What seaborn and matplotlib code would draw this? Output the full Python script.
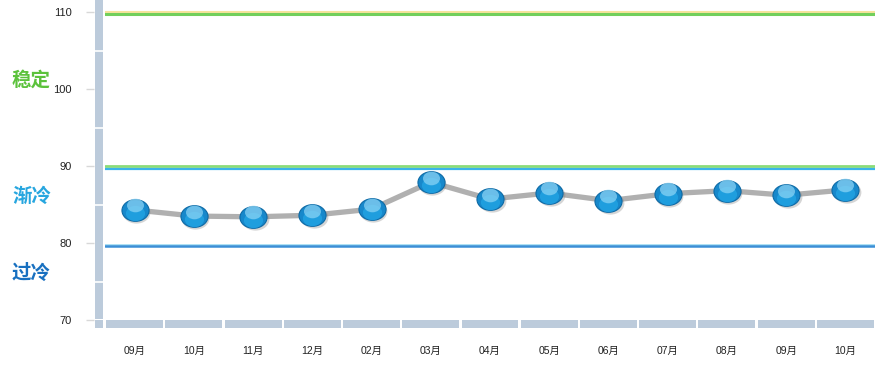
import numpy as np
import pandas as pd
import matplotlib.pyplot as plt
import matplotlib.transforms as mtrans
from matplotlib.path import Path
from matplotlib.patches import Rectangle
import seaborn as sns

# данные графика
months = ['09月', '10月', '11月', '12月', '02月', '03月', '04月',
          '05月', '06月', '07月', '08月', '09月', '10月']
values = [84.3, 83.5, 83.4, 83.6, 84.4, 87.9, 85.7,
          86.5, 85.5, 86.4, 86.8, 86.2, 86.9]
y_ticks = [70, 80, 90, 100, 110]
zone_names = ['稳定', '渐冷', '过冷']
zone_colors = ['#5cc23c', '#27a6df', '#1870c0']
zone_label_y = [80, 197, 273]  # пиксели сверху

sns.set_style('white')
plt.rcParams['font.family'] = ['Liberation Sans', 'Noto Sans CJK SC', 'DejaVu Sans']

df = pd.DataFrame({'pos': np.arange(len(months)), 'value': values})

fig = plt.figure(figsize=(8.85, 3.79), dpi=100)
ax = fig.add_axes([105 / 885, 59 / 379, 770 / 885, 320 / 379])
ax.set_xlim(-0.5, len(months) - 0.5)
ax.set_ylim(70, 70 + 320 / 7.7)

# полосы осей
band = '#bccbdb'
ax.add_patch(Rectangle((-10 / 770, 1 / 320), 8 / 770, 1 - 1 / 320,
                       transform=ax.transAxes, color=band, clip_on=False, lw=0))
ax.add_patch(Rectangle((-10 / 770, -8 / 320), 8 / 770, 8 / 320,
                       transform=ax.transAxes, color=band, clip_on=False, lw=0))
btrans = mtrans.blended_transform_factory(ax.transData, ax.transAxes)
for i in range(len(months)):
    ax.add_patch(Rectangle((i - 0.5 + 0.02, -8 / 320), 0.96, 8 / 320,
                           transform=btrans, color=band, clip_on=False, lw=0))
ltrans = mtrans.blended_transform_factory(ax.transAxes, ax.transData)
for v in [75, 85, 95, 105]:
    ax.plot([-10 / 770, -2 / 770], [v, v], transform=ltrans, color='white',
            lw=1.2, clip_on=False)

# пороговые линии
ax.axhline(110.0, color='#f6e39c', lw=1.5)
ax.axhline(109.72, color='#72cf5c', lw=2.2)
ax.axhline(90.0, color='#8bdc78', lw=2.0)
ax.axhline(89.65, color='#3ab3ea', lw=1.6)
ax.axhline(79.8, color='#9fdcf2', lw=1.2)
ax.axhline(79.6, color='#3b8fd6', lw=1.8)

# линия и точки
sns.lineplot(data=df, x='pos', y='value', ax=ax, color='#b0b0b0', lw=3.8,
             solid_joinstyle='round', solid_capstyle='round', zorder=3)

ell = Path.unit_circle()
ell = Path(ell.vertices * np.array([1.0, 0.8]), ell.codes)
shadow = ax.transData + mtrans.ScaledTranslation(1.5 / 100, -2 / 100, fig.dpi_scale_trans)
ax.scatter(df['pos'], df['value'], s=400, marker=ell, color='#777777', alpha=0.3,
           lw=0, transform=shadow, zorder=4)
sns.scatterplot(data=df, x='pos', y='value', ax=ax, s=380, marker=ell,
                color='#1788cb', edgecolor='#0e6aa5', linewidth=0.8, zorder=5)
glow = ax.transData + mtrans.ScaledTranslation(0, -3 / 100, fig.dpi_scale_trans)
ax.scatter(df['pos'], df['value'], s=190, marker=ell, color='#22a4e4', alpha=0.8,
           lw=0, transform=glow, zorder=6)
hl = ax.transData + mtrans.ScaledTranslation(0, 4.5 / 100, fig.dpi_scale_trans)
ax.scatter(df['pos'], df['value'], s=150, marker=ell, color='#8fd6f6', alpha=0.7,
           lw=0, transform=hl, zorder=7)

# оси и подписи
for s in ax.spines.values():
    s.set_visible(False)
ax.spines['left'].set_position(('outward', 7.9))
ax.set_yticks(y_ticks)
ax.set_xticks(df['pos'])
ax.set_xticklabels(months)
ax.tick_params(axis='y', length=5.8, width=1, color='#d8d8d8', pad=10,
               labelsize=8, labelcolor='#222222', left=True)
ax.tick_params(axis='x', length=0, pad=19, labelsize=7.5, labelcolor='#222222')
ax.set_xlabel('')
ax.set_ylabel('')
ax.grid(False)

for name, c, py in zip(zone_names, zone_colors, zone_label_y):
    fig.text(12 / 885, 1 - py / 379, name, color=c, fontsize=14,
             fontweight='bold', va='center', ha='left')

fig.savefig('out.png', dpi=100)
